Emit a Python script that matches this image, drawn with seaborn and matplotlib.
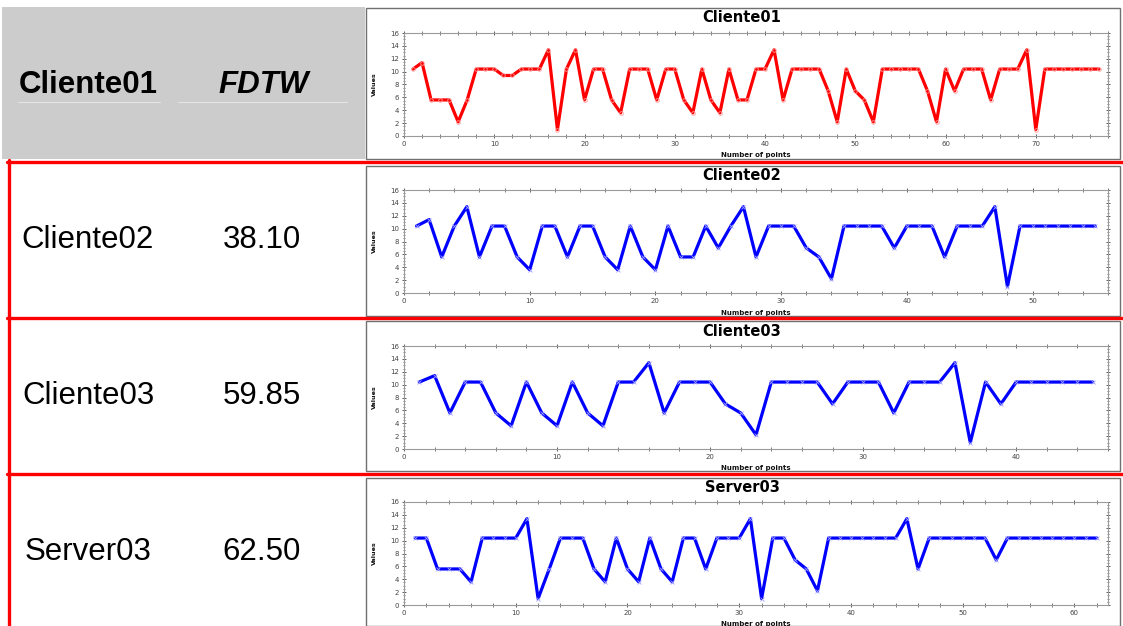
import matplotlib
matplotlib.use('Agg')
import matplotlib.pyplot as plt
import seaborn as sns
import pandas as pd
from matplotlib.patches import Rectangle
from matplotlib.lines import Line2D
from matplotlib.ticker import MultipleLocator

# ---------------- data ----------------
names = ["Cliente01", "Cliente02", "Cliente03", "Server03"]
fdtw_header = "FDTW"
fdtw_values = ["38.10", "59.85", "62.50"]

cliente01 = [10.4, 11.4, 5.6, 5.6, 5.6, 2.2, 5.6, 10.4, 10.4, 10.4,
             9.4, 9.4, 10.4, 10.4, 10.4, 13.4, 1.0, 10.4, 13.4, 5.6,
             10.4, 10.4, 5.6, 3.6, 10.4, 10.4, 10.4, 5.6, 10.4, 10.4,
             5.6, 3.6, 10.4, 5.6, 3.6, 10.4, 5.6, 5.6, 10.4, 10.4,
             13.4, 5.6, 10.4, 10.4, 10.4, 10.4, 7.0, 2.2, 10.4, 7.0,
             5.6, 2.2, 10.4, 10.4, 10.4, 10.4, 10.4, 7.0, 2.2, 10.4,
             7.0, 10.4, 10.4, 10.4, 5.6, 10.4, 10.4, 10.4, 13.4, 1.0,
             10.4, 10.4, 10.4, 10.4, 10.4, 10.4, 10.4]
cliente02 = [10.4, 11.4, 5.6, 10.4, 13.4, 5.6, 10.4, 10.4, 5.6, 3.6,
             10.4, 10.4, 5.6, 10.4, 10.4, 5.6, 3.6, 10.4, 5.6, 3.6,
             10.4, 5.6, 5.6, 10.4, 7.0, 10.4, 13.4, 5.6, 10.4, 10.4,
             10.4, 7.0, 5.6, 2.2, 10.4, 10.4, 10.4, 10.4, 7.0, 10.4,
             10.4, 10.4, 5.6, 10.4, 10.4, 10.4, 13.4, 1.0, 10.4, 10.4,
             10.4, 10.4, 10.4, 10.4, 10.4]
cliente03 = [10.4, 11.4, 5.6, 10.4, 10.4, 5.6, 3.6, 10.4, 5.6, 3.6,
             10.4, 5.6, 3.6, 10.4, 10.4, 13.4, 5.6, 10.4, 10.4, 10.4,
             7.0, 5.6, 2.2, 10.4, 10.4, 10.4, 10.4, 7.0, 10.4, 10.4,
             10.4, 5.6, 10.4, 10.4, 10.4, 13.4, 1.0, 10.4, 7.0, 10.4,
             10.4, 10.4, 10.4, 10.4, 10.4]
server03 = [10.4, 10.4, 5.6, 5.6, 5.6, 3.6, 10.4, 10.4, 10.4, 10.4,
            13.4, 1.0, 5.6, 10.4, 10.4, 10.4, 5.6, 3.6, 10.4, 5.6,
            3.6, 10.4, 5.6, 3.6, 10.4, 10.4, 5.6, 10.4, 10.4, 10.4,
            13.4, 1.0, 10.4, 10.4, 7.0, 5.6, 2.2, 10.4, 10.4, 10.4,
            10.4, 10.4, 10.4, 10.4, 13.4, 5.6, 10.4, 10.4, 10.4, 10.4,
            10.4, 10.4, 7.0, 10.4, 10.4, 10.4, 10.4, 10.4, 10.4, 10.4,
            10.4, 10.4]
series = [cliente01, cliente02, cliente03, server03]
x_max = [78, 56, 46, 63]
y_ticks = [0, 2, 4, 6, 8, 10, 12, 14, 16]
x_label = "Number of points"
y_label = "Values"

# ---------------- styling / layout ----------------
sns.set_theme(style='white')
plt.rcParams['font.family'] = ['Liberation Sans', 'DejaVu Sans']

W, H = 1123, 626
fig = plt.figure(figsize=(W / 100, H / 100), dpi=100)
fig.patch.set_facecolor('white')


def fx(px):
    return px / W


def fy(py):
    return 1 - py / H


def frect(x0, y0, x1, y1, **kw):
    r = Rectangle((fx(x0), fy(y1)), fx(x1) - fx(x0), fy(y0) - fy(y1),
                  transform=fig.transFigure, **kw)
    fig.patches.append(r)


def fline(xs, ys, **kw):
    fig.lines.append(Line2D([fx(v) for v in xs], [fy(v) for v in ys],
                            transform=fig.transFigure, **kw))


# header grey cell
frect(2, 7, 365, 159, facecolor='#cccccc', edgecolor='none', zorder=0)
fline([18, 160], [102, 102], color='#e4e4e4', lw=0.8)
fline([178, 347], [102, 102], color='#e4e4e4', lw=0.8)

# chart frames
frames = [(8, 159), (166, 316), (321, 471), (478, 626)]
for (t, b) in frames:
    frect(366, t, 1120, b, facecolor='white', edgecolor='#707070', lw=1.0, zorder=1)

# axes rows: (top, bottom) in px
axes_rows = [(33, 136), (190, 293), (346, 449), (502, 605)]
title_y = [17, 175, 331, 487]
xlabel_y = [152, 310, 465, 621]
colors = ['#ff0000', '#0000ff', '#0000ff', '#0000ff']
mcolors = ['#ff9a9a', '#a0a0ff', '#a0a0ff', '#a0a0ff']
markers = ['o', 'x', 'x', 'x']
small_font = ['DejaVu Sans']

AX_L, AX_R = 404, 1108
for i, vals in enumerate(series):
    top, bot = axes_rows[i]
    ax = fig.add_axes([fx(AX_L), fy(bot), fx(AX_R) - fx(AX_L), (bot - top) / H])
    ax.set_zorder(3)
    df = pd.DataFrame({"point": list(range(1, len(vals) + 1)), "value": vals})
    sns.lineplot(data=df, x="point", y="value", ax=ax, color=colors[i], lw=2.3,
                 marker=markers[i], markersize=3.2 if markers[i] == 'x' else 2.6,
                 markeredgecolor=mcolors[i], markerfacecolor='none',
                 markeredgewidth=0.6)
    ax.set_xlim(0, x_max[i])
    ax.set_ylim(0, 16)
    ax.set_yticks(y_ticks)
    ax.xaxis.set_major_locator(MultipleLocator(10))
    ax.xaxis.set_minor_locator(MultipleLocator(2))
    ax.yaxis.set_minor_locator(MultipleLocator(0.5))
    ax.tick_params(axis='x', which='both', top=True, bottom=True, direction='inout',
                   labelsize=5, colors='#444444', pad=2)
    ax.tick_params(axis='y', which='both', left=True, right=True, direction='inout',
                   labelsize=5, colors='#444444', pad=2)
    ax.tick_params(which='major', length=3.2, width=0.6)
    ax.tick_params(axis='y', which='minor', length=1.6, width=0.5)
    ax.tick_params(axis='x', which='minor', length=2.4, width=0.5)
    for lab in ax.get_xticklabels() + ax.get_yticklabels():
        lab.set_family(small_font)
    for s in ax.spines.values():
        s.set_color('#9a9a9a')
        s.set_linewidth(0.8)
    ax.set_xlabel(x_label, fontsize=5, fontweight='bold', color='#111111',
                  family=small_font)
    ax.xaxis.set_label_coords(0.5, (bot - xlabel_y[i]) / (bot - top))
    ax.set_ylabel(y_label, fontsize=4.6, fontweight='bold', color='#111111',
                  family=small_font)
    ax.yaxis.set_label_coords((377 - AX_L) / (AX_R - AX_L), 0.5)
    fig.text(fx(742), fy(title_y[i]), names[i], ha='center', va='center',
             fontsize=10.5, fontweight='bold', color='black', family=small_font)

# left column text
fig.text(fx(88), fy(85), names[0], ha='center', va='center', fontsize=22.5,
         fontweight='bold', color='black')
fig.text(fx(264), fy(85), fdtw_header, ha='center', va='center', fontsize=22.5,
         fontweight='bold', fontstyle='italic', color='black')
row_y = [240, 396, 552]
for j in range(3):
    fig.text(fx(88), fy(row_y[j]), names[j + 1], ha='center', va='center',
             fontsize=22.5, color='black')
    fig.text(fx(262), fy(row_y[j]), fdtw_values[j], ha='center', va='center',
             fontsize=22.5, color='black')

# red table rules
red = '#ff0000'
for y in [161.5, 317.5, 473.5]:
    fline([7, 1123], [y, y], color=red, lw=2.4, zorder=5)
fline([8.5, 8.5], [160, 626], color=red, lw=2.4, zorder=5)

fig.savefig('out.png', dpi=100, facecolor='white')
